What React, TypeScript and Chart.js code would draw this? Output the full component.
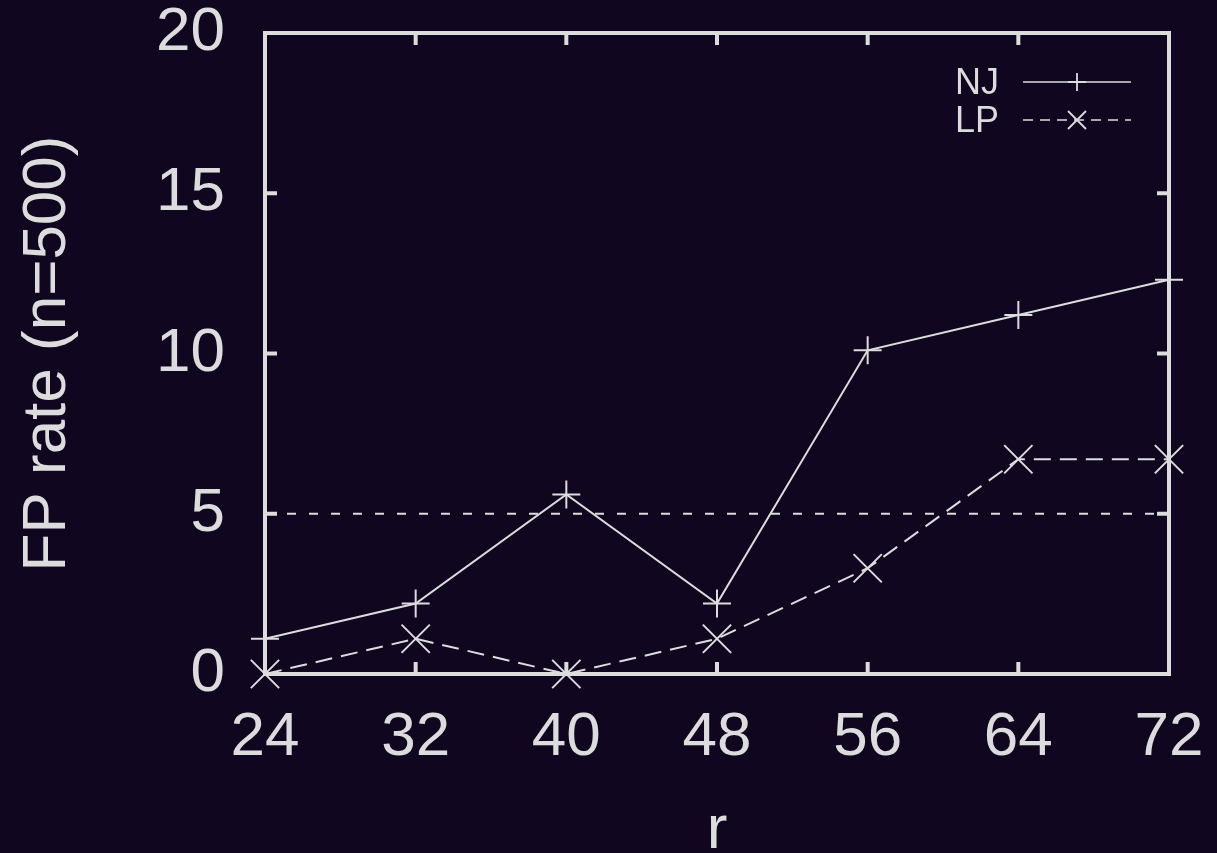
import React, { useEffect, useRef } from "react";
import { Chart, registerables } from "chart.js";

Chart.register(...registerables);

const rValues = [24, 32, 40, 48, 56, 64, 72];
const njRates = [1.1, 2.2, 5.6, 2.2, 10.1, 11.2, 12.3];
const lpRates = [0, 1.1, 0, 1.1, 3.3, 6.7, 6.7];
const thresholdRate = 5;
const seriesLabels = ["NJ", "LP"];
const xTitle = "r";
const yTitle = "FP rate (n=500)";
const xMin = 24;
const xMax = 72;
const xStep = 8;
const yMin = 0;
const yMax = 20;
const yStep = 5;

const BG = "#10061f";
const FG = "rgb(220,220,220)";
const FONT = "'Liberation Sans', Arial, Helvetica, sans-serif";

const framePlugin = {
  id: "gnuFrame",
  beforeDraw(chart: any) {
    const { ctx, width, height } = chart;
    ctx.save();
    ctx.fillStyle = BG;
    ctx.fillRect(0, 0, width, height);
    ctx.restore();
  },
  afterDatasetsDraw(chart: any) {
    const { ctx, chartArea } = chart;
    const { left, right, top, bottom } = chartArea;
    const xs = chart.scales.x;
    const ys = chart.scales.y;
    const tl = 12;
    ctx.save();
    ctx.strokeStyle = FG;
    ctx.lineWidth = 4;
    ctx.lineCap = "butt";
    ctx.beginPath();
    xs.ticks.forEach((t: any) => {
      const px = xs.getPixelForValue(t.value);
      ctx.moveTo(px, bottom);
      ctx.lineTo(px, bottom - tl);
      ctx.moveTo(px, top);
      ctx.lineTo(px, top + tl);
    });
    ys.ticks.forEach((t: any) => {
      const py = ys.getPixelForValue(t.value);
      ctx.moveTo(left, py);
      ctx.lineTo(left + tl, py);
      ctx.moveTo(right, py);
      ctx.lineTo(right - tl, py);
    });
    ctx.stroke();
    ctx.strokeRect(left, top, right - left, bottom - top);
    ctx.restore();
  },
  afterDraw(chart: any) {
    const { ctx } = chart;
    const textRight = 999;
    const lineStart = 1023;
    const lineEnd = 1131;
    const rowY = [82, 120];
    ctx.save();
    chart.data.datasets.forEach((ds: any) => {
      const idx = seriesLabels.indexOf(ds.label);
      if (idx < 0) return;
      const y = rowY[idx];
      ctx.fillStyle = FG;
      ctx.font = `36px ${FONT}`;
      ctx.textAlign = "right";
      ctx.textBaseline = "alphabetic";
      ctx.fillText(ds.label, textRight, y + 12);
      ctx.strokeStyle = FG;
      ctx.lineWidth = 1.6;
      ctx.setLineDash(ds.borderDash ? [10, 7] : []);
      ctx.beginPath();
      ctx.moveTo(lineStart, y);
      ctx.lineTo(lineEnd, y);
      ctx.stroke();
      ctx.setLineDash([]);
      const cx = (lineStart + lineEnd) / 2;
      const r = 9;
      ctx.lineWidth = 1.8;
      ctx.beginPath();
      if (ds.pointStyle === "cross") {
        ctx.moveTo(cx - r, y);
        ctx.lineTo(cx + r, y);
        ctx.moveTo(cx, y - r);
        ctx.lineTo(cx, y + r);
      } else {
        ctx.moveTo(cx - r, y - r);
        ctx.lineTo(cx + r, y + r);
        ctx.moveTo(cx - r, y + r);
        ctx.lineTo(cx + r, y - r);
      }
      ctx.stroke();
    });
    ctx.restore();
  },
};

export default function App() {
  const canvasRef = useRef<HTMLCanvasElement | null>(null);

  useEffect(() => {
    const canvas = canvasRef.current;
    if (!canvas) return;
    const njData = rValues.map((x, i) => ({ x, y: njRates[i] }));
    const lpData = rValues.map((x, i) => ({ x, y: lpRates[i] }));
    const thrData = [
      { x: rValues[0], y: thresholdRate },
      { x: rValues[rValues.length - 1], y: thresholdRate },
    ];
    const chart = new Chart(canvas, {
      type: "line",
      data: {
        datasets: [
          {
            label: "threshold",
            data: thrData,
            borderColor: FG,
            borderWidth: 2,
            borderDash: [9, 13],
            pointRadius: 0,
            fill: false,
            clip: false as any,
          },
          {
            label: seriesLabels[0],
            data: njData,
            borderColor: FG,
            borderWidth: 2,
            pointStyle: "cross",
            pointRadius: 14,
            pointBorderWidth: 2,
            pointBorderColor: FG,
            pointBackgroundColor: FG,
            fill: false,
            clip: false as any,
          },
          {
            label: seriesLabels[1],
            data: lpData,
            borderColor: FG,
            borderWidth: 2,
            borderDash: [17, 9],
            pointStyle: "crossRot",
            pointRadius: 20,
            pointBorderWidth: 2,
            pointBorderColor: FG,
            pointBackgroundColor: FG,
            fill: false,
            clip: false as any,
          },
        ],
      },
      options: {
        responsive: false,
        animation: false,
        layout: { padding: { top: 33, right: 48, left: 0, bottom: 0 } },
        plugins: {
          legend: { display: false },
          tooltip: { enabled: false },
        },
        scales: {
          x: {
            type: "linear",
            min: xMin,
            max: xMax,
            ticks: {
              stepSize: xStep,
              color: FG,
              font: { family: FONT, size: 62, lineHeight: 1 },
              padding: 0,
            },
            grid: {
              display: true,
              drawOnChartArea: false,
              drawTicks: true,
              tickLength: 33,
              color: "rgba(0,0,0,0)",
            },
            border: { display: false },
            title: {
              display: true,
              text: xTitle,
              color: FG,
              font: { family: FONT, size: 62, lineHeight: 1.2 },
              padding: { top: 0, bottom: -15 },
            },
            afterFit: (s: any) => {
              s.height = 179;
            },
          },
          y: {
            type: "linear",
            min: yMin,
            max: yMax,
            ticks: {
              stepSize: yStep,
              color: FG,
              font: { family: FONT, size: 62, lineHeight: 1 },
              padding: 0,
            },
            grid: {
              display: true,
              drawOnChartArea: false,
              drawTicks: true,
              tickLength: 40,
              color: "rgba(0,0,0,0)",
            },
            border: { display: false },
            title: {
              display: true,
              text: yTitle,
              color: FG,
              font: { family: FONT, size: 62, lineHeight: 1.2 },
              padding: { top: 11, bottom: 0 },
            },
            afterFit: (s: any) => {
              s.width = 265;
            },
          },
        },
      } as any,
      plugins: [framePlugin],
    });
    return () => chart.destroy();
  }, []);

  return (
    <div
      style={{
        position: "fixed",
        left: 0,
        top: 0,
        width: 1217,
        height: 853,
        background: BG,
      }}
    >
      <canvas ref={canvasRef} width={1217} height={853} />
    </div>
  );
}
